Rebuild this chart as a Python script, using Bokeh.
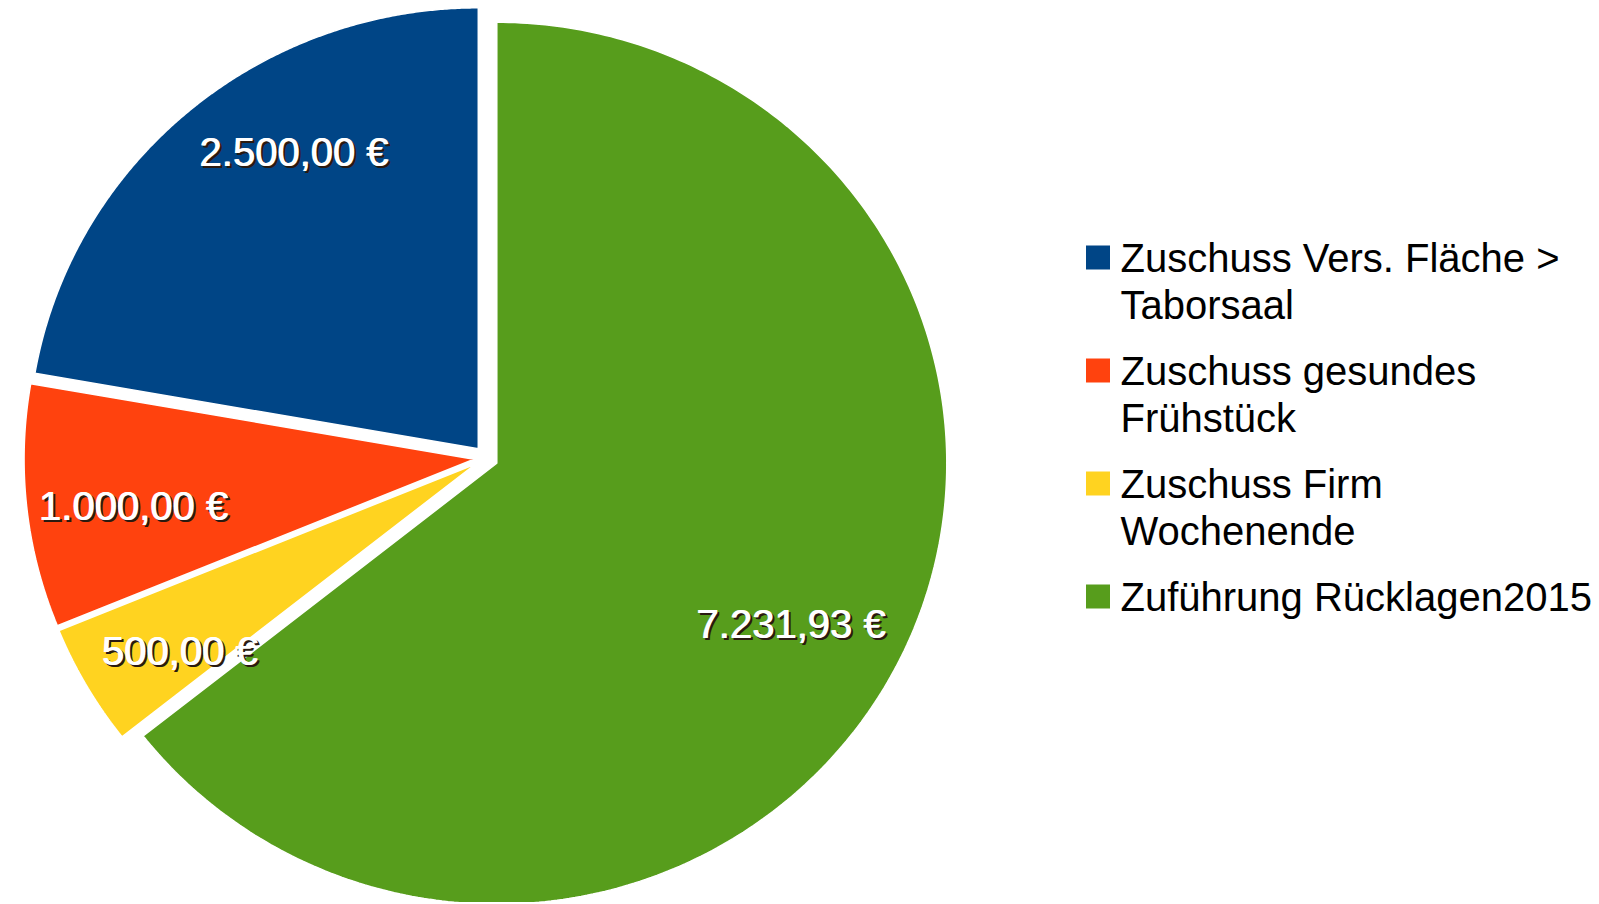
import math
from bokeh.plotting import figure
from bokeh.models import Range1d
from bokeh.core.properties import value
from bokeh.embed import file_html
from bokeh.resources import INLINE

# ---- data ----
categories = ["Zuschuss Vers. Fläche > Taborsaal", "Zuschuss gesundes Frühstück",
              "Zuschuss Firm Wochenende", "Zuführung Rücklagen2015"]
legend_lines = [["Zuschuss Vers. Fläche >", "Taborsaal"],
                ["Zuschuss gesundes", "Frühstück"],
                ["Zuschuss Firm", "Wochenende"],
                ["Zuführung Rücklagen2015"]]
amounts = [2500.00, 1000.00, 500.00, 7231.93]
value_labels = ["2.500,00 €", "1.000,00 €", "500,00 €", "7.231,93 €"]
colors = ["#004586", "#ff420e", "#ffd320", "#579d1c"]

# ---- layout / style ----
W, H = 1596, 902
SCREEN_H = 904
CX, CY = 485.5, SCREEN_H - 457.5      # pie centre (pixel units, y up)
RX, RY = 450, 441                      # slightly elliptical pie
EXPLODE = 12
LABEL_F = 0.8
label_nudge = [(47, 27), (17, -9), (15, -10), (-30, -7)]  # (dx, dy up) px
FONT = "Liberation Sans"

p = figure(width=W, height=H, output_backend="svg", toolbar_location=None,
           x_range=Range1d(0, W), y_range=Range1d(SCREEN_H - H, SCREEN_H),
           min_border=0, outline_line_color=None)
p.axis.visible = False
p.grid.visible = False
p.background_fill_color = "white"
p.border_fill_color = "white"

total = sum(amounts)
cum = 0.0
label_pos = []
for i, a in enumerate(amounts):
    start = math.radians(90 + cum / total * 360)
    cum += a
    end = math.radians(90 + cum / total * 360)
    mid = (start + end) / 2
    vx = CX + EXPLODE * math.cos(mid)
    vy = CY + EXPLODE * math.sin(mid)
    n = 300
    xs = [vx] + [vx + RX * math.cos(start + (end - start) * k / n) for k in range(n + 1)]
    ys = [vy] + [vy + RY * math.sin(start + (end - start) * k / n) for k in range(n + 1)]
    p.patch(xs, ys, fill_color=colors[i], line_color="white", line_width=1.5)
    lx = vx + LABEL_F * RX * math.cos(mid) + label_nudge[i][0]
    ly = vy + LABEL_F * RY * math.sin(mid) + label_nudge[i][1]
    label_pos.append((lx, ly))

for (lx, ly), lab in zip(label_pos, value_labels):
    for dx, dy, col in [(2, 2, "#2a1a10"), (3, 2, "#2a1a10"),
                        (0, 0, "white"), (1, 0, "white")]:
        p.text(x=[lx], y=[ly], text=[lab], text_align="center",
               text_baseline="middle", text_font=value(FONT),
               text_font_size="40px", text_color=col,
               x_offset=dx, y_offset=dy)

# ---- legend ----
LEG_X = 1120
LEG_Y0 = SCREEN_H - 257
GROUP = 113
LINE = 47
for i, lines in enumerate(legend_lines):
    base = LEG_Y0 - i * GROUP
    p.rect(x=[1097.5], y=[base], width=24, height=24,
           fill_color=colors[i], line_color=None)
    for j, t in enumerate(lines):
        p.text(x=[LEG_X], y=[base - j * LINE], text=[t], text_align="left",
               text_baseline="middle", text_font=value(FONT),
               text_font_size="40px", text_color="black")

open("out.html", "w").write(file_html(p, INLINE))
